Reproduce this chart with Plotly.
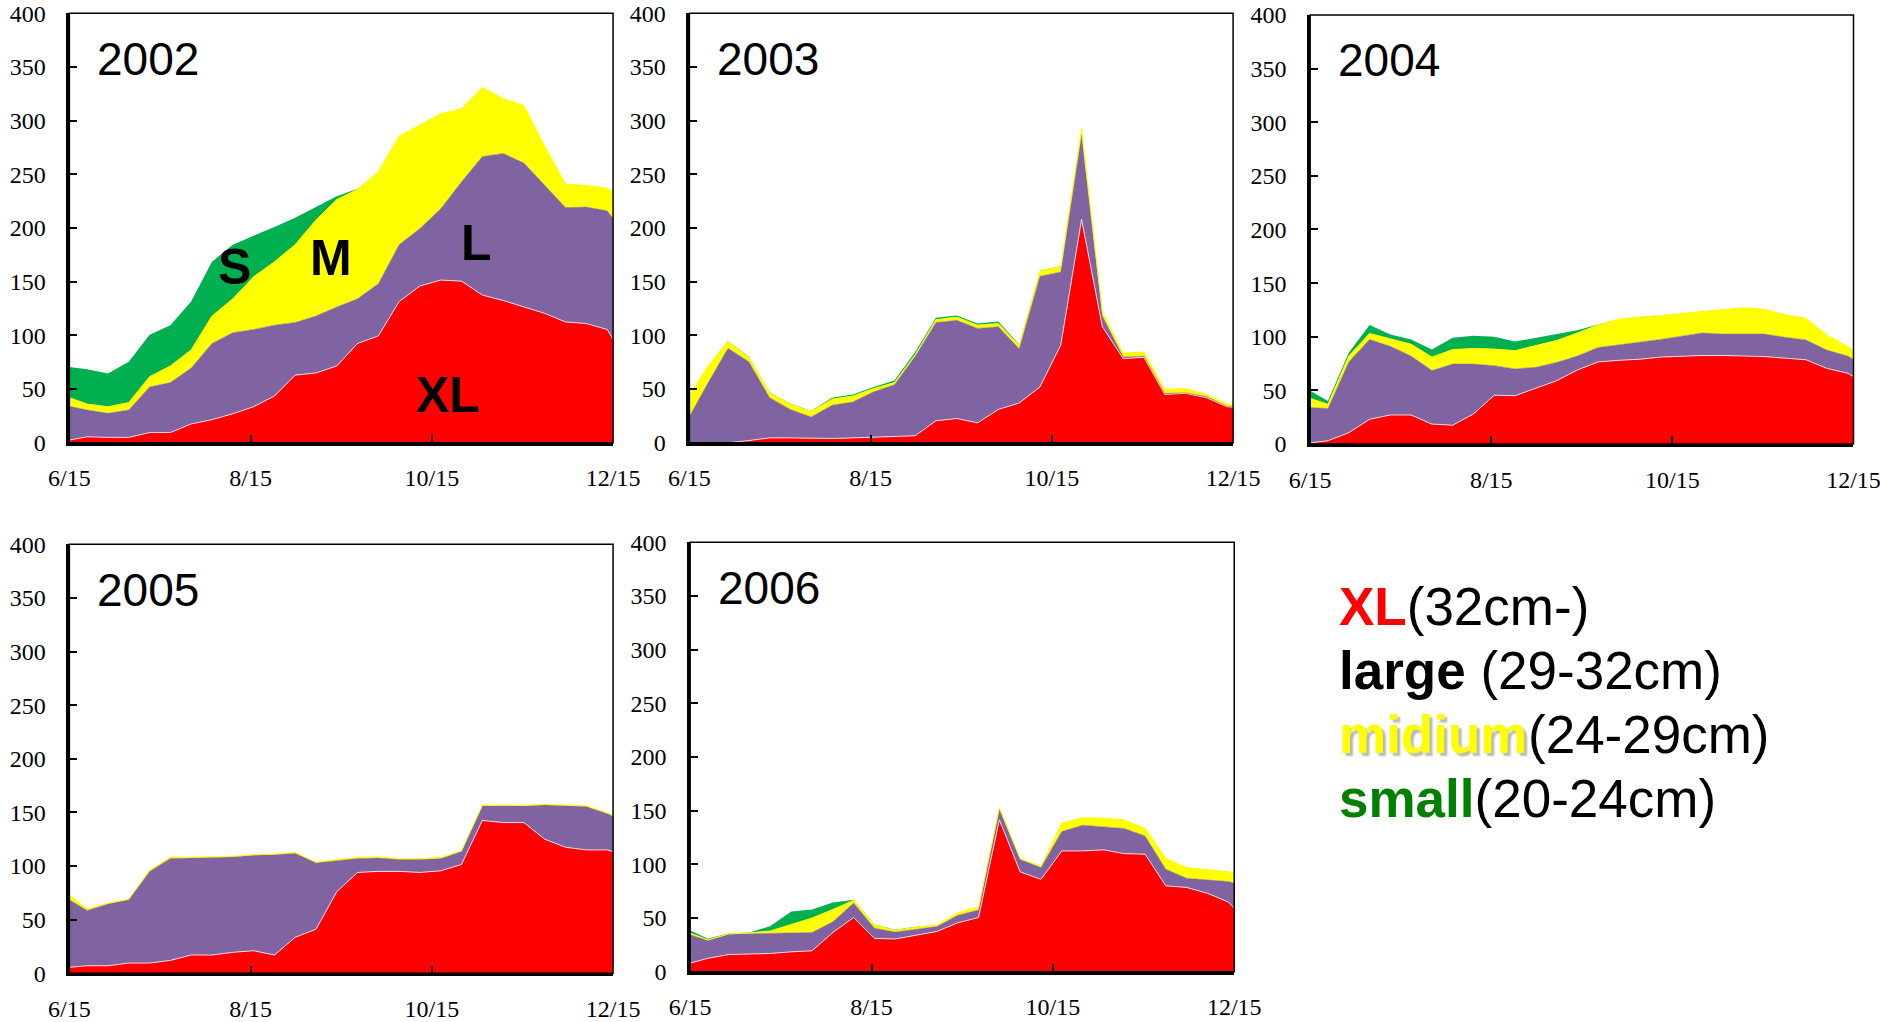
import plotly.graph_objects as go

# Sampling days counted from 6/15 (weekly surveys, last point at 12/15)
DAYS = [0, 6, 13, 20, 27, 34, 41, 48, 55, 62, 69, 76, 83, 90, 97, 104,
        111, 118, 125, 132, 139, 146, 153, 160, 167, 174, 181, 183]
TICK_DAYS = [0, 61, 122, 183]
TICK_LABELS = ["6/15", "8/15", "10/15", "12/15"]
Y_TICKS = [0, 50, 100, 150, 200, 250, 300, 350, 400]

YEARS = ["2002", "2003", "2004", "2005", "2006"]

# Catch per size class (XL: 32cm-, L: 29-32cm, M: 24-29cm, S: 20-24cm)
XL_2002 = [2.5, 5.5, 5, 5, 9.5, 9.5, 17.5, 21.5, 27, 33.5, 43.5, 63, 65, 71.5,
           92.5, 99.5, 131.5, 146, 151.5, 150.5, 137.5, 132.5, 126.5, 120.5, 112.5, 111, 105.5, 96.5]
L_2002 = [31.5, 25, 22.5, 25.5, 42.5, 46.5, 52, 71, 75.5, 72, 66, 49, 53, 55,
          41.5, 48.5, 53, 53.5, 66.5, 92.5, 129, 137, 134, 119.5, 106.5, 108.5, 110.5, 112.5]
M_2002 = [8, 5.5, 6, 7, 9.5, 15.5, 17, 25.5, 31.5, 49, 59, 72.5, 89.5, 100,
          102, 104.5, 101, 96.5, 88.5, 68, 64.5, 51, 53.5, 36, 22, 20, 21, 24]
S_2002 = [28.5, 32.5, 31, 38, 39, 38, 45, 50.5, 50.5, 38, 32.5, 25, 12, 3,
          0.5, 0, 0, 0, 0, 0, 0, 0, 0, 0, 0, 0, 0, 0]

XL_2003 = [0, 0, 0, 2, 4.5, 4.5, 4, 4, 4.5, 5, 5.5, 6.5, 20.5, 22.5,
           18.5, 31, 37, 52, 91, 208, 108, 78.5, 79.5, 45, 46, 42, 33.5, 33]
L_2003 = [24.5, 54.5, 88, 73.5, 37.5, 26.5, 20, 31, 33.5, 42.5, 48.5, 74, 91.5, 91.5,
          88, 77, 50.5, 103, 68, 78.5, 10, 1.5, 1, 1, 0.5, 1, 0.5, 0.5]
M_2003 = [19.5, 16, 6.5, 4, 4.5, 5, 5, 5.5, 5.5, 3, 2, 1.5, 2.5, 3,
          3, 3, 3, 5, 5, 6, 4, 3.5, 4, 3.5, 4, 2, 2, 1.5]
S_2003 = [0, 0, 0.5, 0.5, 0.5, 0.5, 0.5, 1.5, 1.5, 1.5, 2, 2.5, 2, 1.5,
          1.5, 2, 1, 0.5, 0.5, 0, 0, 0, 0, 0, 0, 0, 0, 0]

XL_2004 = [1, 3, 10.5, 23, 27, 27, 18.5, 17.5, 28, 45.5, 45, 52, 59, 69,
           76.5, 78, 79, 81, 82, 82.5, 82.5, 82, 81.5, 80, 78.5, 70.5, 66, 63]
L_2004 = [33, 30, 66, 74.5, 64, 55, 50, 57, 46.5, 27.5, 25, 19.5, 17, 13,
          13.5, 14.5, 15.5, 16.5, 18.5, 21, 20, 20.5, 21, 19.5, 18.5, 17, 16, 16]
M_2004 = [8.5, 4, 5.5, 5.5, 7, 11, 12.5, 13.5, 14.5, 15.5, 17, 20, 20.5, 21.5,
          21, 24, 23.5, 22, 21, 20, 22.5, 24.5, 23, 21, 20, 14, 9, 8.5]
S_2004 = [7, 3, 3, 8, 4, 4.5, 7, 11, 12, 11.5, 8.5, 7.5, 6.5, 2.5,
          0.5, 0, 0, 0, 0, 0, 0, 0, 0, 0, 0, 0, 0, 0]

XL_2005 = [5.5, 7, 7, 9.5, 9.5, 12, 17, 17, 19.5, 21, 17, 33.5, 41, 76,
           94, 95, 95, 94, 95.5, 101.5, 142.5, 140.5, 140.5, 125, 117.5, 115, 115, 113.5]
L_2005 = [63, 51.5, 57.5, 59, 85.5, 95, 90.5, 91, 89, 89, 93.5, 78.5, 62, 29,
          13, 12.5, 11, 12, 11.5, 12, 13.5, 15.5, 15.5, 32, 38.5, 40.5, 34, 33]
M_2005 = [4.5, 1.5, 1, 0.6, 1, 1.3, 0.7, 0.6, 0.6, 0.6, 0.7, 0.6, 0.6, 1,
          1, 1, 0.9, 0.9, 0.9, 0.7, 0.6, 0.6, 0.6, 0.6, 0.6, 0.6, 0.6, 0.6]
S_2005 = [0, 0, 0, 0, 0, 0, 0, 0, 0, 0, 0, 0, 0, 0,
          0, 0, 0, 0, 0, 0, 0, 0, 0, 0, 0, 0, 0, 0]

XL_2006 = [8, 12.5, 16, 16.5, 17, 18.5, 19.5, 36.5, 50.5, 31, 30.5, 34, 37.5, 45.5,
           50.5, 141.5, 93, 86, 112.5, 112.5, 113.5, 110, 109.5, 80, 78.5, 73, 65, 59]
L_2006 = [26.5, 16.5, 19, 19, 19, 17.5, 17, 10, 13.5, 9.5, 6.5, 5.5, 4.5, 7,
          7, 10, 11.5, 11, 18, 24, 21.5, 23.5, 17, 15.5, 8.5, 12.5, 19, 23.5]
M_2006 = [1.5, 0.6, 0.3, 0.6, 2, 8, 13.5, 11.5, 2.5, 3, 1.5, 2, 1.5, 2.5,
          3, 1, 1, 1.2, 8, 7, 8, 8, 7, 10, 10, 9.5, 9, 9]
S_2006 = [2.5, 1, 0.5, 0.5, 4.5, 12, 8, 6.5, 0.5, 0.5, 0.5, 0.3, 0, 0,
          0, 0, 0, 0, 0, 0, 0, 0, 0, 0, 0, 0, 0, 0]

SERIES = {
    "2002": (XL_2002, L_2002, M_2002, S_2002),
    "2003": (XL_2003, L_2003, M_2003, S_2003),
    "2004": (XL_2004, L_2004, M_2004, S_2004),
    "2005": (XL_2005, L_2005, M_2005, S_2005),
    "2006": (XL_2006, L_2006, M_2006, S_2006),
}

CLASS_NAMES = ["XL", "L", "M", "S"]
FILL_COLORS = ["#FF0000", "#8064A2", "#FFFF00", "#00B050"]
EDGE_COLORS = ["rgba(255,225,235,0.9)", "#8064A2", "#FFFF00", "#00B050"]
EDGE_WIDTHS = [1.0, 0.5, 1.0, 0]

# Panel placement (paper fractions): x domain, y domain
PANELS = {
    "2002": ([0.0369, 0.3261], [0.5668, 0.9870]),
    "2003": ([0.3667, 0.6559], [0.5668, 0.9870]),
    "2004": ([0.6969, 0.9859], [0.5656, 0.9853]),
    "2005": ([0.0369, 0.3261], [0.0477, 0.4674]),
    "2006": ([0.3671, 0.6565], [0.0492, 0.4694]),
}

SERIF = "Liberation Serif, Times New Roman, serif"
SANS = "Liberation Sans, Arial, sans-serif"

fig = go.Figure()
layout = dict(
    width=1880, height=1022,
    margin=dict(l=0, r=0, t=0, b=0, autoexpand=False),
    paper_bgcolor="white", plot_bgcolor="white",
    showlegend=False,
    annotations=[], shapes=[],
)

for i, year in enumerate(YEARS, start=1):
    suffix = "" if i == 1 else str(i)
    xa, ya = f"x{suffix}", f"y{suffix}"
    for k, values in enumerate(SERIES[year]):
        fig.add_trace(go.Scatter(
            x=DAYS, y=values, xaxis=xa, yaxis=ya,
            mode="lines", stackgroup=f"g{year}",
            name=CLASS_NAMES[k],
            fillcolor=FILL_COLORS[k],
            line=dict(color=EDGE_COLORS[k], width=EDGE_WIDTHS[k]),
            hoverinfo="skip",
        ))
    xdom, ydom = PANELS[year]
    layout[f"xaxis{suffix}"] = dict(
        domain=xdom, anchor=ya, range=[0, 183], automargin=False,
        tickmode="array", tickvals=TICK_DAYS, ticktext=TICK_LABELS,
        ticks="inside", ticklen=8, tickwidth=2, tickcolor="black",
        showline=True, linecolor="black", linewidth=2.5,
        showgrid=False, zeroline=False, fixedrange=True,
        tickfont=dict(family=SERIF, size=24, color="black"),
        ticklabelstandoff=12, ticklabeloverflow="allow",
    )
    layout[f"yaxis{suffix}"] = dict(
        domain=ydom, anchor=xa, range=[0, 400], automargin=False,
        tickmode="array", tickvals=Y_TICKS,
        ticks="inside", ticklen=8, tickwidth=2, tickcolor="black",
        showline=True, linecolor="black", linewidth=2.5,
        showgrid=False, zeroline=False, fixedrange=True,
        tickfont=dict(family=SERIF, size=24, color="black"),
        ticklabelstandoff=16, ticklabeloverflow="allow",
    )
    # thin frame on top and right
    layout["shapes"].append(dict(
        type="rect", xref=f"{xa} domain", yref=f"{ya} domain",
        x0=0, x1=1, y0=0, y1=1, line=dict(color="black", width=1.5),
        layer="above",
    ))
    layout["annotations"].append(dict(
        text=year, xref=f"{xa} domain", yref=f"{ya} domain",
        x=0.047, y=0.894, xanchor="left", yanchor="middle", showarrow=False,
        font=dict(family=SANS, size=46, color="black"),
    ))

# Size-class labels inside the 2002 panel
for label, dx, dy in [("S", 55.7, 164), ("M", 87.9, 172), ("L", 137.1, 186), ("XL", 127.5, 44)]:
    layout["annotations"].append(dict(
        text=f"<b>{label}</b>", xref="x", yref="y", x=dx, y=dy,
        xanchor="center", yanchor="middle", showarrow=False,
        font=dict(family=SANS, size=50, color="black"),
    ))

# Size-class key
KEY_X = 0.7112
key_lines = [
    ("<b><span style='color:#FF0000'>XL</span></b>(32cm-)", 0.4061),
    ("<b>large</b> (29-32cm)", 0.3444),
    ("<b><span style='color:#008000'>small</span></b>(20-24cm)", 0.2182),
]
for txt, yy in key_lines:
    layout["annotations"].append(dict(
        text=txt, xref="paper", yref="paper", x=KEY_X, y=yy,
        xanchor="left", yanchor="middle", showarrow=False,
        font=dict(family=SANS, size=53, color="black"),
    ))
layout["annotations"].append(dict(
    text="<b>midium</b>", xref="paper", yref="paper", x=KEY_X, y=0.2818,
    xanchor="left", yanchor="middle", showarrow=False,
    font=dict(family=SANS, size=53, color="#FFFF00", shadow="3px 3px 2px #b8b8b8"),
))
layout["annotations"].append(dict(
    text="(24-29cm)", xref="paper", yref="paper", x=1525.5 / 1880, y=0.2818,
    xanchor="left", yanchor="middle", showarrow=False,
    font=dict(family=SANS, size=53, color="black"),
))

fig.update_layout(**layout)
fig.write_html("out.html")
